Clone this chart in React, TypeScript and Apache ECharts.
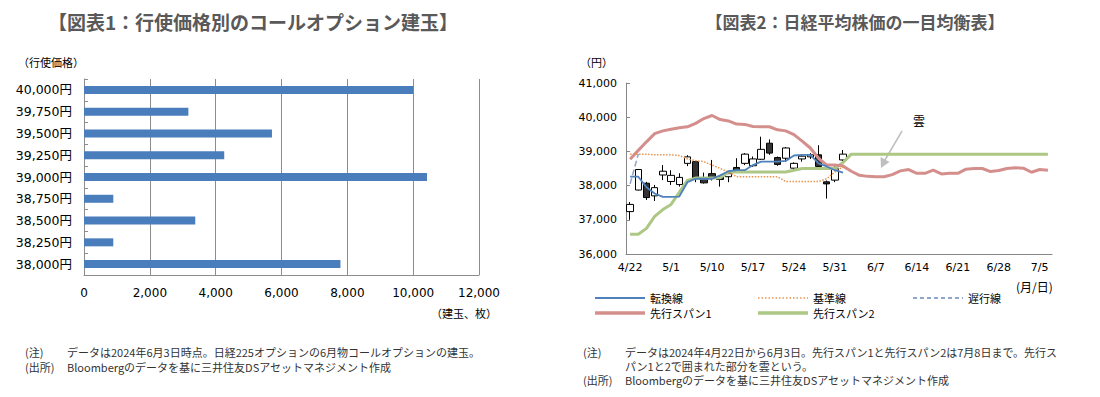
import React, { useEffect, useRef } from "react";
import * as echarts from "echarts";

// ---------- Chart 1 data ----------
const strikes = ["38,000円", "38,250円", "38,500円", "38,750円", "39,000円", "39,250円", "39,500円", "39,750円", "40,000円"];
const openInterest = [7790, 890, 3380, 890, 10420, 4260, 5710, 3170, 10000];

// ---------- Chart 2 data ----------
const dates = [
  "4/22", "4/24", "4/25", "4/26", "4/30", "5/1", "5/2", "5/7", "5/8", "5/9",
  "5/10", "5/13", "5/14", "5/15", "5/16", "5/17", "5/20", "5/21", "5/22", "5/23",
  "5/24", "5/27", "5/28", "5/29", "5/30", "5/31", "6/3", "6/4", "6/5", "6/6",
  "6/7", "6/10", "6/11", "6/12", "6/13", "6/14", "6/17", "6/18", "6/19", "6/20",
  "6/21", "6/24", "6/25", "6/26", "6/27", "6/28", "7/1", "7/2", "7/3", "7/4",
  "7/5", "7/8",
];
const candleOpen = [37240, 37870, 38070, 37700, 38310, 38120, 38030, 38650, 38700, 38200, 38350, 38250, 38260, 38530, 38650, 38580, 38770, 39240, 38820, 38800, 38510, 38780, 38840, 38900, 38110, 38160, 38750];
const candleClose = [37450, 38470, 37650, 37940, 38420, 38300, 38240, 38840, 38220, 38080, 38230, 38180, 38350, 38400, 38920, 38780, 39060, 38950, 38620, 39100, 38650, 38860, 38900, 38560, 38050, 38490, 38920];
const candleLow = [37000, 37860, 37580, 37550, 38160, 38020, 37970, 38570, 38100, 38060, 38150, 37970, 38100, 38380, 38600, 38550, 38750, 38900, 38580, 38700, 38450, 38700, 38780, 38520, 37620, 38100, 38700];
const candleHigh = [37520, 38480, 38110, 38020, 38600, 38450, 38360, 38890, 38720, 38380, 38750, 38300, 38400, 38800, 38950, 38850, 39430, 39350, 38850, 39130, 38680, 38900, 38950, 39180, 38150, 38560, 39040];

const tenkan = [38260, 38260, 37950, 37770, 37670, 37670, 37680, 38100, 38200, 38200, 38200, 38300, 38420, 38450, 38450, 38600, 38700, 38700, 38700, 38720, 38880, 38900, 38900, 38650, 38560, 38450, 38380];
const kijun = [38920, 38920, 38920, 38900, 38900, 38900, 38880, 38780, 38730, 38700, 38600, 38500, 38400, 38260, 38260, 38260, 38260, 38260, 38260, 38120, 38120, 38120, 38120, 38120, 38200, 38400, 38550];
const chikou = [38050, 38920];
const span1 = [38770, 39030, 39280, 39520, 39600, 39650, 39690, 39720, 39820, 39960, 40050, 39930, 39890, 39800, 39790, 39730, 39720, 39720, 39630, 39600, 39490, 39300, 39100, 38800, 38600, 38600, 38570, 38420, 38300, 38270, 38260, 38260, 38320, 38430, 38470, 38360, 38360, 38450, 38340, 38360, 38360, 38480, 38500, 38500, 38410, 38440, 38500, 38520, 38510, 38390, 38470, 38450];
const span2 = [36580, 36580, 36750, 37100, 37300, 37450, 37800, 38150, 38220, 38220, 38220, 38230, 38400, 38400, 38400, 38400, 38400, 38400, 38400, 38400, 38450, 38500, 38500, 38500, 38500, 38500, 38680, 38920, 38920, 38920, 38920, 38920, 38920, 38920, 38920, 38920, 38920, 38920, 38920, 38920, 38920, 38920, 38920, 38920, 38920, 38920, 38920, 38920, 38920, 38920, 38920, 38920];

const COLORS = {
  tenkan: "#4f81bd",
  kijun: "#e8944f",
  chikou: "#8fa6cc",
  span1: "#d48f8d",
  span2: "#adc785",
  bar: "#4a7dbb",
};

const FONT = "'DejaVu Sans', 'Noto Sans CJK JP', sans-serif";
const JFONT = "'Noto Sans CJK JP', sans-serif";

const fmt = (v: number) => v.toLocaleString("en-US");

function txt(text: string, x: number, y: number, size: number, opts: any = {}) {
  const align = opts.align || "left";
  return {
    type: "text",
    silent: true,
    style: {
      text,
      x,
      y,
      fill: opts.color || "#333333",
      fontSize: size,
      fontFamily: opts.family || JFONT,
      fontWeight: opts.weight || "normal",
      align,
      textAlign: align,
      verticalAlign: "middle",
      textVerticalAlign: "middle",
    },
  };
}

function legendItem(label: string, x: number, y: number, color: string, width: number, dash: number[] | null) {
  const style: any = { stroke: color, lineWidth: width };
  if (dash) style.lineDash = dash;
  return [
    { type: "line", silent: true, shape: { x1: x, y1: y, x2: x + 50, y2: y }, style },
    txt(label, x + 55, y, 11, { color: "#000" }),
  ];
}

export default function App() {
  const ref = useRef<HTMLDivElement>(null);

  useEffect(() => {
    if (!ref.current) return;
    const chart = echarts.init(ref.current, undefined, { renderer: "svg" });

    const candles = candleOpen.map((o, i) => [o, candleClose[i], candleLow[i], candleHigh[i]]);

    const option: any = {
      animation: false,
      textStyle: { fontFamily: FONT },
      grid: [
        { left: 84, top: 79, width: 395, height: 196 },
        { left: 626, top: 83, width: 426, height: 171 },
      ],
      xAxis: [
        {
          gridIndex: 0,
          type: "value",
          min: 0,
          max: 12000,
          interval: 2000,
          axisLine: { show: true, lineStyle: { color: "#8c8c8c" } },
          axisTick: { show: false },
          splitLine: { show: true, lineStyle: { color: "#8c8c8c" } },
          axisLabel: { fontSize: 12, color: "#000", margin: 12, fontFamily: FONT, formatter: (v: number) => fmt(v) },
        },
        {
          gridIndex: 1,
          type: "category",
          data: dates,
          boundaryGap: true,
          axisLine: { lineStyle: { color: "#868686" } },
          axisTick: { inside: true, length: 4, interval: 0, lineStyle: { color: "#868686" } },
          axisLabel: { interval: 4, fontSize: 11, color: "#000", margin: 8, fontFamily: FONT },
        },
      ],
      yAxis: [
        {
          gridIndex: 0,
          type: "category",
          data: strikes,
          axisLine: { show: true, lineStyle: { color: "#8c8c8c" } },
          axisTick: { show: true, inside: true, length: 4, lineStyle: { color: "#8c8c8c" } },
          axisLabel: { fontSize: 12.5, color: "#000", margin: 12, fontFamily: FONT },
          splitLine: { show: false },
        },
        {
          gridIndex: 1,
          type: "value",
          min: 36000,
          max: 41000,
          interval: 1000,
          axisLine: { show: true, lineStyle: { color: "#868686" } },
          axisTick: { show: true, inside: true, length: 4, lineStyle: { color: "#868686" } },
          splitLine: { show: false },
          axisLabel: { fontSize: 11, color: "#000", margin: 9, fontFamily: FONT, formatter: (v: number) => fmt(v) },
        },
      ],
      series: [
        {
          name: "建玉",
          type: "bar",
          xAxisIndex: 0,
          yAxisIndex: 0,
          data: openInterest,
          barWidth: 8,
          itemStyle: { color: COLORS.bar },
        },
        {
          name: "日経平均",
          type: "candlestick",
          xAxisIndex: 1,
          yAxisIndex: 1,
          data: candles,
          barWidth: 7,
          itemStyle: { color: "#ffffff", color0: "#333333", borderColor: "#000000", borderColor0: "#000000", borderWidth: 1 },
        },
        {
          name: "先行スパン2",
          type: "line",
          xAxisIndex: 1,
          yAxisIndex: 1,
          data: span2,
          symbol: "none",
          lineStyle: { color: COLORS.span2, width: 3 },
        },
        {
          name: "先行スパン1",
          type: "line",
          xAxisIndex: 1,
          yAxisIndex: 1,
          data: span1,
          symbol: "none",
          lineStyle: { color: COLORS.span1, width: 3 },
        },
        {
          name: "基準線",
          type: "line",
          xAxisIndex: 1,
          yAxisIndex: 1,
          data: kijun,
          symbol: "none",
          lineStyle: { color: COLORS.kijun, width: 1.5, type: "dotted" },
        },
        {
          name: "転換線",
          type: "line",
          xAxisIndex: 1,
          yAxisIndex: 1,
          data: tenkan,
          symbol: "none",
          lineStyle: { color: COLORS.tenkan, width: 1.8 },
        },
        {
          name: "遅行線",
          type: "line",
          xAxisIndex: 1,
          yAxisIndex: 1,
          data: chikou,
          symbol: "none",
          lineStyle: { color: COLORS.chikou, width: 1.5, type: "dashed" },
        },
      ],
      graphic: [
        txt("【図表1：行使価格別のコールオプション建玉】", 253, 21, 19, { align: "center", weight: "bold", color: "#595959" }),
        txt("【図表2：日経平均株価の一目均衡表】", 855, 21, 17, { align: "center", weight: "bold", color: "#595959" }),
        txt("（行使価格）", 18, 62, 11, { color: "#000" }),
        txt("（建玉、枚）", 497, 313, 11, { align: "right", color: "#000" }),
        txt("（円）", 580, 62, 11, { color: "#000" }),
        txt("(月/日)", 1016, 286, 12, { color: "#000" }),
        txt("雲", 913, 120, 12, { color: "#000" }),
        {
          type: "line",
          silent: true,
          shape: { x1: 902, y1: 131, x2: 885, y2: 160 },
          style: { stroke: "#bfbfbf", lineWidth: 1.5 },
        },
        {
          type: "polygon",
          silent: true,
          shape: { points: [[881, 168], [880.5, 157], [889.5, 162]] },
          style: { fill: "#bfbfbf" },
        },
        ...legendItem("転換線", 595, 298, COLORS.tenkan, 2, null),
        ...legendItem("基準線", 758, 298, COLORS.kijun, 1.5, [1.5, 2]),
        ...legendItem("遅行線", 913, 298, COLORS.chikou, 2, [4, 3]),
        ...legendItem("先行スパン1", 595, 313, COLORS.span1, 3.5, null),
        ...legendItem("先行スパン2", 758, 313, COLORS.span2, 3.5, null),
        txt("(注)", 25, 352, 11),
        txt("データは2024年6月3日時点。日経225オプションの6月物コールオプションの建玉。", 67, 352, 11),
        txt("(出所)", 25, 367, 11),
        txt("Bloombergのデータを基に三井住友DSアセットマネジメント作成", 67, 367, 11),
        txt("(注)", 583, 352, 11),
        txt("データは2024年4月22日から6月3日。先行スパン1と先行スパン2は7月8日まで。先行ス", 625, 352, 11),
        txt("パン1と2で囲まれた部分を雲という。", 625, 366, 11),
        txt("(出所)", 583, 380, 11),
        txt("Bloombergのデータを基に三井住友DSアセットマネジメント作成", 625, 380, 11),
      ],
    };

    chart.setOption(option);
    return () => chart.dispose();
  }, []);

  return (
    <div
      ref={ref}
      style={{ position: "absolute", left: 0, top: 0, width: 1100, height: 397, background: "#ffffff" }}
    />
  );
}
